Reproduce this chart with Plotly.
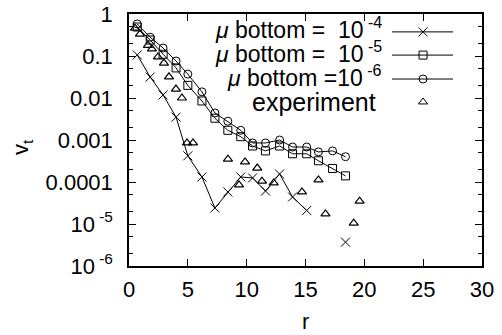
import plotly.graph_objects as go

# ---- data ----
r_model = [0.7, 1.8, 2.9, 4.0, 5.0, 6.2, 7.3, 8.4, 9.5, 10.5, 11.6, 12.8, 13.9, 15.1, 16.1, 17.3, 18.4]
v_mu4 = [0.106, 0.0316, 0.0118, 0.0035, 0.00042, 0.000132, 2.4e-5, 5.8e-5, 1.32e-4, 1.25e-4,
         6.1e-5, 1.55e-4, 4.4e-5, 2.1e-5, None, None, 3.7e-6]
v_mu5 = [0.49, 0.24, 0.11, 0.052, 0.020, 0.0085, 0.0033, 0.0017, 0.0012, 0.00072,
         0.00055, 0.00072, 0.00047, 0.00047, 0.00032, 0.00021, 0.00014]
v_mu6 = [0.58, 0.28, 0.155, 0.076, 0.037, 0.014, 0.0044, 0.0028, 0.0017, 0.00085,
         0.00085, 0.001, 0.00068, 0.00068, 0.00052, 0.00055, 0.0004]
r_exp = [0.51, 0.93, 1.61, 1.95, 2.46, 2.97, 3.4, 3.99, 4.5, 4.93, 5.44, 8.41, 9.35, 9.86,
         10.9, 11.3, 12.3, 14.7, 16.1, 16.7, 19.1, 19.6]
v_exp = [0.46, 0.33, 0.18, 0.147, 0.095, 0.068, 0.032, 0.0163, 0.01, 0.00085, 0.00085, 0.00035,
         8.5e-5, 0.0003, 0.000215, 1.05e-4, 9.5e-5, 5.8e-5, 1.12e-4, 1.74e-5, 1.05e-5, 3.5e-5]

x_ticks = [0, 5, 10, 15, 20, 25, 30]
y_tickvals = [1, 0.1, 0.01, 0.001, 0.0001, 1e-5, 1e-6]
y_ticktext = ["1", "0.1", "0.01", "0.001", "0.0001", "10<sup> -5</sup>", "10<sup> -6</sup>"]

legend_labels = ["<i>\u03bc</i> bottom =\u00a0 10<sup> -4</sup>",
                 "<i>\u03bc</i> bottom =\u00a0 10<sup> -5</sup>",
                 "<i>\u03bc</i> bottom =10<sup> -6</sup>",
                 "experiment"]

FONT = "Liberation Sans, Arial, Helvetica, sans-serif"
FS = 22
BLACK = "#000000"

fig = go.Figure()

series = [
    (r_model, v_mu4, "x-thin-open", 9),
    (r_model, v_mu5, "square-open", 8),
    (r_model, v_mu6, "circle-open", 8),
]
for xs, ys, sym, sz in series:
    fig.add_trace(go.Scatter(
        x=xs, y=ys, mode="lines+markers", connectgaps=False,
        line=dict(color=BLACK, width=1),
        marker=dict(symbol=sym, size=sz, color=BLACK, line=dict(width=1, color=BLACK)),
        showlegend=False, xaxis="x", yaxis="y"))

fig.add_trace(go.Scatter(
    x=r_exp, y=v_exp, mode="markers",
    marker=dict(symbol="triangle-up-open", size=8, color=BLACK, line=dict(width=1.2, color=BLACK)),
    showlegend=False, xaxis="x", yaxis="y"))

# ---- manual legend (symbol to the right of right-aligned text) ----
leg_rows = [0.929, 0.837, 0.742, 0.651]
leg_text_y = [0.943, 0.851, 0.754, 0.651]
leg_text_x = [0.722, 0.722, 0.722, 0.705]
leg_text_fs = [23, 23, 23, 25]
leg_syms = [("x-thin-open", 9, True), ("square-open", 8, True), ("circle-open", 8, True),
            ("triangle-up-open", 8, False)]
for yy, (sym, sz, has_line) in zip(leg_rows, leg_syms):
    if has_line:
        fig.add_trace(go.Scatter(
            x=[0.745, 0.918], y=[yy, yy], mode="lines",
            line=dict(color=BLACK, width=1), showlegend=False,
            xaxis="x2", yaxis="y2", hoverinfo="skip"))
    fig.add_trace(go.Scatter(
        x=[0.833], y=[yy], mode="markers",
        marker=dict(symbol=sym, size=sz, color=BLACK, line=dict(width=1, color=BLACK)),
        showlegend=False, xaxis="x2", yaxis="y2", hoverinfo="skip"))

annotations = []
for ty, tx, fs, txt in zip(leg_text_y, leg_text_x, leg_text_fs, legend_labels):
    annotations.append(dict(x=tx, y=ty, xref="paper", yref="paper", text=txt,
                            showarrow=False, xanchor="right", yanchor="middle",
                            font=dict(family=FONT, size=fs, color=BLACK)))
annotations.append(dict(x=-0.303, y=0.472, xref="paper", yref="paper", text="v<sub>t</sub>",
                        showarrow=False, textangle=-90, xanchor="center", yanchor="middle",
                        font=dict(family=FONT, size=FS, color=BLACK)))
annotations.append(dict(x=0.5, y=-0.222, xref="paper", yref="paper", text="r",
                        showarrow=False, xanchor="center", yanchor="middle",
                        font=dict(family=FONT, size=FS, color=BLACK)))

fig.update_layout(
    width=502, height=335,
    margin=dict(l=129, r=20, t=14, b=69, pad=0, autoexpand=False),
    paper_bgcolor="white", plot_bgcolor="white",
    font=dict(family=FONT, size=FS, color=BLACK),
    showlegend=False,
    annotations=annotations,
    xaxis=dict(range=[0, 30], tickvals=x_ticks, ticks="inside", ticklen=7, tickwidth=1.2,
               tickcolor=BLACK, showline=True, linecolor=BLACK, linewidth=1.5, mirror="ticks",
               showgrid=False, zeroline=False, ticklabelstandoff=3, automargin=False,
               tickfont=dict(family=FONT, size=FS, color=BLACK)),
    yaxis=dict(type="log", range=[-6, 0], tickvals=y_tickvals, ticktext=y_ticktext,
               ticks="inside", ticklen=7, tickwidth=1.2, tickcolor=BLACK,
               showline=True, linecolor=BLACK, linewidth=1.5, mirror="ticks",
               showgrid=False, zeroline=False, ticklabelstandoff=10, automargin=False,
               minor=dict(ticks="inside", ticklen=4, tickcolor=BLACK, dtick="D2", showgrid=False),
               tickfont=dict(family=FONT, size=FS, color=BLACK)),
    xaxis2=dict(range=[0, 1], overlaying="x", visible=False, fixedrange=True),
    yaxis2=dict(range=[0, 1], overlaying="y", visible=False, fixedrange=True),
)

fig.write_html("out.html")
